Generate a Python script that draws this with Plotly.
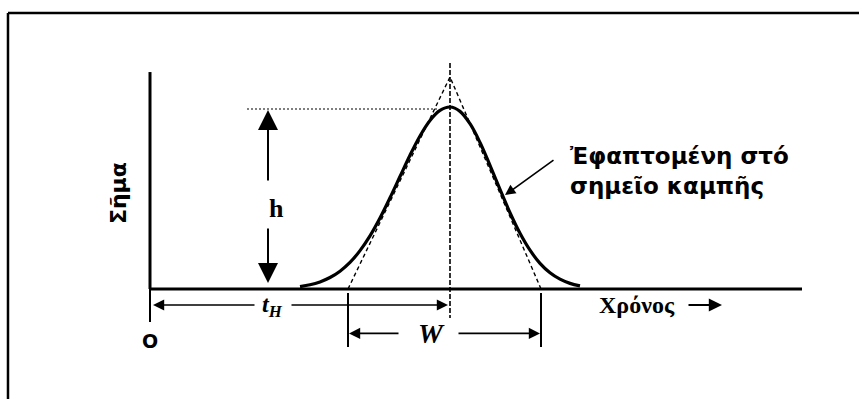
import plotly.graph_objects as go

# peak profile (time units, signal in % of peak height)
peak_time = list(range(15, 44))
peak_signal = [1.3, 2.3, 3.9, 6.3, 9.8, 14.6, 21.1, 29.2, 39.0, 50.1, 61.8, 73.5,
               84.1, 92.6, 98.1, 100.0, 97.6, 90.8, 80.5, 67.9, 54.7, 41.9, 30.6,
               21.3, 14.1, 8.9, 5.4, 3.1, 1.7]

baseline_time = [0, 65.2]
baseline_signal = [0, 0]
axis_top = 119.2

retention_time = 30.0
peak_height = 100.0
tangent_apex = 116.5
tangent_left = 19.8
tangent_right = 39.1

label_time = "Χρόνος"
label_signal = "Σῆμα"
label_tangent = ["Ἐφαπτομένη στό", "σημεῖο καμπῆς"]

fig = go.Figure()

# tangents at the inflection points
for foot in (tangent_left, tangent_right):
    fig.add_trace(go.Scatter(
        x=[foot, retention_time], y=[0, tangent_apex], mode="lines",
        line=dict(color="black", width=1.4, dash="4px,3px"), hoverinfo="skip"))

# vertical line through the maximum
fig.add_trace(go.Scatter(
    x=[retention_time, retention_time], y=[124.2, -15.9], mode="lines",
    line=dict(color="black", width=1.6, dash="5px,2px"), hoverinfo="skip"))

# axes
fig.add_trace(go.Scatter(
    x=[0, 0], y=[axis_top, 0], mode="lines",
    line=dict(color="black", width=3), hoverinfo="skip"))
fig.add_trace(go.Scatter(
    x=baseline_time, y=baseline_signal, mode="lines",
    line=dict(color="black", width=3), hoverinfo="skip"))

# peak
fig.add_trace(go.Scatter(
    x=peak_time, y=peak_signal, mode="lines", line_shape="spline",
    line=dict(color="black", width=3.2), hoverinfo="skip"))

# tick marks under the baseline
fig.add_trace(go.Scatter(
    x=[0, 0], y=[0, -18.1], mode="lines",
    line=dict(color="black", width=2), hoverinfo="skip"))
for foot in (tangent_left, tangent_right):
    fig.add_trace(go.Scatter(
        x=[foot, foot], y=[-2.2, -31.9], mode="lines",
        line=dict(color="black", width=2), hoverinfo="skip"))

# dotted line at peak height
fig.add_trace(go.Scatter(
    x=[9.7, 28.7], y=[peak_height - 1.1, peak_height - 1.1], mode="lines",
    line=dict(color="black", width=1.1, dash="2px,2px"), hoverinfo="skip"))

h_x = 11.8


def arrow(x, y, ax, ay, head=2, width=1.6, size=1.4):
    fig.add_annotation(x=x, y=y, ax=ax, ay=ay, xref="x", yref="y",
                       axref="x", ayref="y", text="", showarrow=True,
                       arrowhead=head, arrowwidth=width, arrowsize=size,
                       arrowcolor="black", standoff=0, startstandoff=0)


# peak height arrows
arrow(h_x, 98.4, h_x, 58.8, head=2, width=2, size=2)
arrow(h_x, 3.3, h_x, 34.1, head=2, width=2, size=2)

# retention time arrows
arrow(0.3, -8.8, 10.6, -8.8)
arrow(29.8, -8.8, 14.0, -8.8)

# peak width arrows
arrow(19.9, -24.4, 25.0, -24.4)
arrow(39.0, -24.4, 30.7, -24.4)

# time direction arrow
arrow(57.2, -8.8, 53.7, -8.8, width=2.2, size=1.2)

# pointer to the tangent
arrow(35.5, 51.6, 40.5, 71.4, width=1.6, size=1.3)

serif = "Liberation Serif, Times New Roman, serif"
sans = "DejaVu Sans, Liberation Sans, sans-serif"

fig.add_annotation(x=h_x + 0.8, y=44.5, text="<b>h</b>", showarrow=False,
                   font=dict(family=serif, size=26, color="black"))
fig.add_annotation(x=12.2, y=-9.5, text="<b><i>t<sub>H</sub></i></b>", showarrow=False,
                   font=dict(family=serif, size=24, color="black"))
fig.add_annotation(x=28.1, y=-24.4, text="<b><i>W</i></b>", showarrow=False,
                   font=dict(family=serif, size=28, color="black"))
fig.add_annotation(x=0, y=-28.5, text="<b>O</b>", showarrow=False,
                   font=dict(family=sans, size=19, color="black"))
fig.add_annotation(x=48.7, y=-8.8, text="<b>" + label_time + "</b>", showarrow=False,
                   font=dict(family=serif, size=24, color="black"))
fig.add_annotation(x=-3.2, y=52.7, text="<b>" + label_signal + "</b>", showarrow=False,
                   textangle=-90, font=dict(family=sans, size=22, color="black"))
fig.add_annotation(x=41.8, y=65.0, text="<b>" + "<br>".join(label_tangent) + "</b>",
                   showarrow=False, xanchor="left", align="left",
                   font=dict(family=sans, size=23, color="black"))

# frame of the scanned figure (top and left edges)
fig.add_shape(type="line", xref="paper", yref="paper", x0=0.0093, x1=1.0,
              y0=0.9674, y1=0.9674, line=dict(color="black", width=2.5))
fig.add_shape(type="line", xref="paper", yref="paper", x0=0.0093, x1=0.0093,
              y0=0.0, y1=0.9674, line=dict(color="black", width=2.5))

fig.update_layout(
    width=859, height=399,
    margin=dict(l=0, r=0, t=0, b=0),
    paper_bgcolor="white", plot_bgcolor="white",
    showlegend=False,
    xaxis=dict(range=[-15, 70.9], visible=False, fixedrange=True),
    yaxis=dict(range=[-60.44, 158.79], visible=False, fixedrange=True),
)

# drop the default page margin so the figure fills the window
fig.write_html("out.html", config={"displayModeBar": False},
               post_script="document.body.style.margin = '0px';")
